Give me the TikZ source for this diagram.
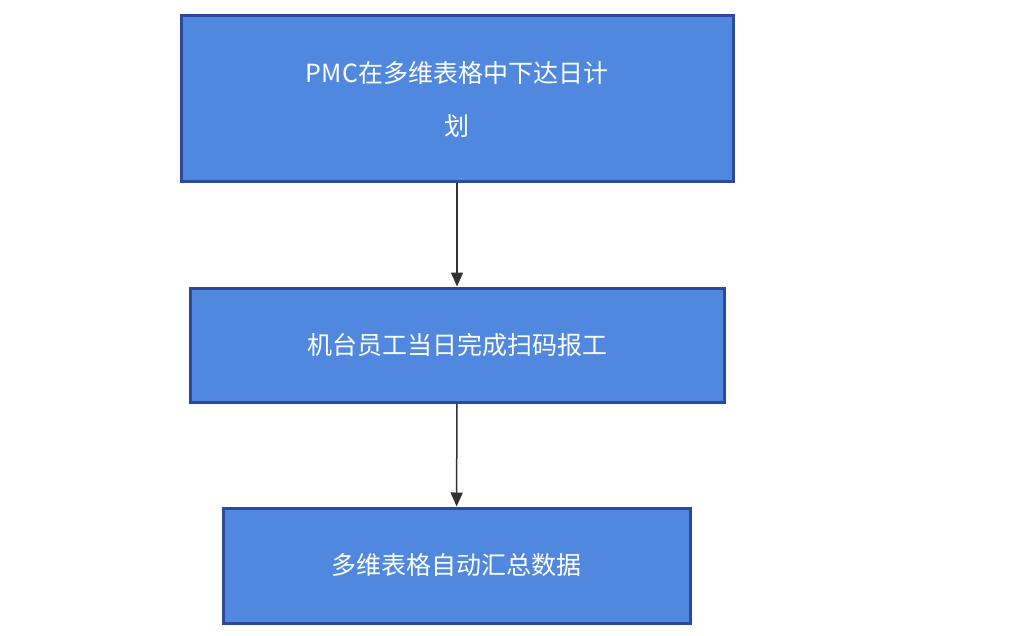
\documentclass[tikz,border=0pt]{standalone}
\usepackage{fontspec}
\setmainfont{Noto Sans CJK SC}
\usetikzlibrary{arrows.meta}
\definecolor{boxfill}{HTML}{5088DF}
\definecolor{boxline}{HTML}{2B4A9E}
\definecolor{arr}{HTML}{333333}
\begin{document}
\begin{tikzpicture}[x=1pt,y=-1pt,
  box/.style={draw=boxline,line width=3pt,fill=boxfill,text=white,align=center,
    font=\fontsize{25}{53}\selectfont,inner sep=0pt},
  conn/.style={draw=arr,line width=1.5pt,-{Triangle[length=14pt,width=12pt]}}]
\useasboundingbox (0,0) rectangle (1024,636);
\node[box,minimum width=552pt,minimum height=166pt] (a) at (457,99) {PMC在多维表格中下达日计\\划};
\node[box,minimum width=534pt,minimum height=114pt] (b) at (457,345) {机台员工当日完成扫码报工};
\node[box,minimum width=467pt,minimum height=115pt] (c) at (456.5,565.5) {多维表格自动汇总数据};
\draw[conn] (a) -- (b);
\draw[conn] (b) -- (c);
\end{tikzpicture}
\end{document}
